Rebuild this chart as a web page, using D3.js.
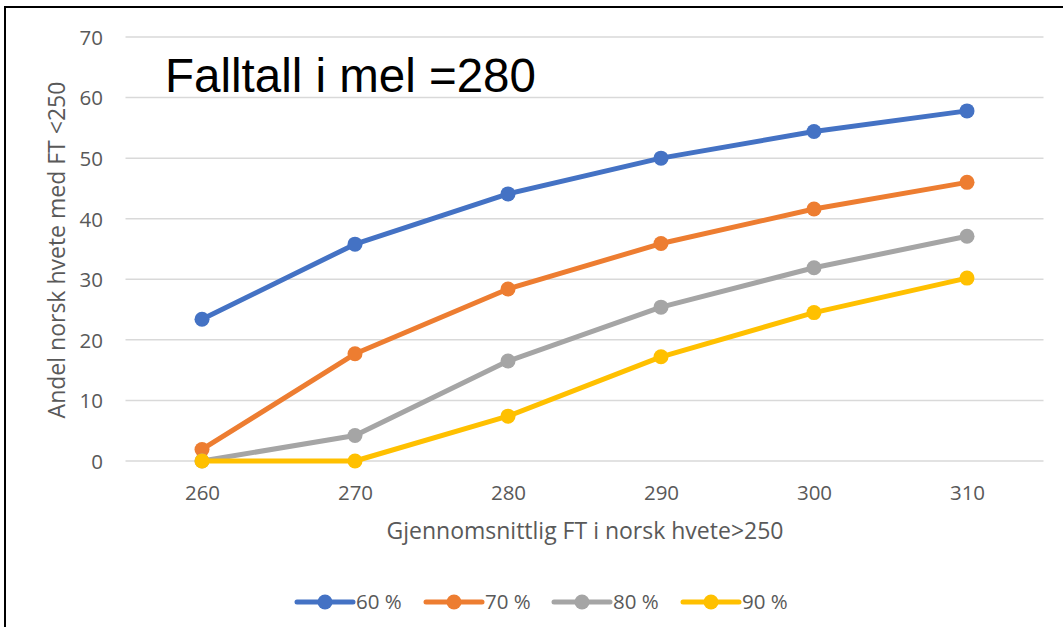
<!DOCTYPE html>
<html>
<head>
<meta charset="utf-8">
<script src="https://cdn.jsdelivr.net/npm/d3@7"></script>
<style>
  html, body { margin: 0; padding: 0; background: #fff; }
  svg { display: block; }
</style>
</head>
<body>
<svg id="chart" width="1063" height="627"></svg>
<script>
// Category axis values (average falling number in Norwegian wheat)
const categories = [260, 270, 280, 290, 300, 310];
// Share of Norwegian wheat with FT < 250, one series per percentage
const seriesNames = ["60 %", "70 %", "80 %", "90 %"];
const values60 = [23.4, 35.8, 44.1, 50.0, 54.4, 57.8];
const values70 = [1.9, 17.7, 28.4, 35.9, 41.6, 46.0];
const values80 = [0.0, 4.2, 16.5, 25.4, 31.9, 37.1];
const values90 = [0.0, 0.0, 7.4, 17.2, 24.5, 30.2];
const yTicks = [0, 10, 20, 30, 40, 50, 60, 70];
const colors = ["#4472C4", "#ED7D31", "#A5A5A5", "#FFC000"];

const series = seriesNames.map((name, i) => ({
  name,
  color: colors[i],
  values: [values60, values70, values80, values90][i]
}));

const svg = d3.select("#chart");
const W = 1063, H = 627;

const plot = { left: 125.5, right: 1043.5, top: 37, bottom: 461 };

const x = d3.scalePoint()
  .domain(categories)
  .range([plot.left, plot.right])
  .padding(0.5);

const y = d3.scaleLinear()
  .domain([0, 70])
  .range([plot.bottom, plot.top]);

const labelFont = "'Open Sans', 'Noto Sans', sans-serif";
const labelColor = "#595959";
const tickSize = 20.5;
const titleSize = 23;

// outer frame
svg.append("path")
  .attr("d", `M5,${H} L5,7 L${W},7`)
  .attr("fill", "none")
  .attr("stroke", "#000")
  .attr("stroke-width", 2);

// horizontal gridlines
svg.append("g")
  .selectAll("line")
  .data(yTicks)
  .join("line")
  .attr("x1", plot.left)
  .attr("x2", plot.right)
  .attr("y1", d => y(d))
  .attr("y2", d => y(d))
  .attr("stroke", "#d9d9d9")
  .attr("stroke-width", 1.5);

// y axis labels
const yAxis = d3.axisLeft(y).tickValues(yTicks).tickSize(0).tickPadding(0);
const gy = svg.append("g")
  .attr("transform", `translate(103,0)`)
  .call(yAxis);
gy.select(".domain").remove();
gy.selectAll("text")
  .attr("font-family", labelFont)
  .attr("font-size", tickSize)
  .attr("fill", labelColor)
  .attr("dy", "0.36em");

// x axis labels
const xAxis = d3.axisBottom(x).tickSize(0).tickPadding(0);
const gx = svg.append("g")
  .attr("transform", `translate(0,${plot.bottom + 39})`)
  .call(xAxis);
gx.select(".domain").remove();
gx.selectAll("text")
  .attr("font-family", labelFont)
  .attr("font-size", tickSize)
  .attr("fill", labelColor)
  .attr("dy", 0);

// axis titles
svg.append("text")
  .attr("transform", `translate(65,250) rotate(-90)`)
  .attr("text-anchor", "middle")
  .attr("font-family", labelFont)
  .attr("font-size", titleSize)
  .attr("fill", labelColor)
  .text("Andel norsk hvete med FT <250");

svg.append("text")
  .attr("x", 585)
  .attr("y", 539)
  .attr("text-anchor", "middle")
  .attr("font-family", labelFont)
  .attr("font-size", titleSize)
  .attr("fill", labelColor)
  .text("Gjennomsnittlig FT i norsk hvete>250");

// chart title inside plot
svg.append("text")
  .attr("x", 165)
  .attr("y", 92)
  .attr("font-family", "'Liberation Sans', Arial, sans-serif")
  .attr("font-size", 47.5)
  .attr("fill", "#000")
  .text("Falltall i mel =280");

// series lines and markers
const line = d3.line()
  .x((d, i) => x(categories[i]))
  .y(d => y(d));

const gs = svg.append("g")
  .selectAll("g")
  .data(series)
  .join("g");

gs.append("path")
  .attr("d", d => line(d.values))
  .attr("fill", "none")
  .attr("stroke", d => d.color)
  .attr("stroke-width", 5)
  .attr("stroke-linejoin", "round")
  .attr("stroke-linecap", "round");

gs.selectAll("circle")
  .data(d => d.values.map((v, i) => ({ v, i, color: d.color })))
  .join("circle")
  .attr("cx", d => x(categories[d.i]))
  .attr("cy", d => y(d.v))
  .attr("r", 7.5)
  .attr("fill", d => d.color);

// legend
const legendX = [297, 426, 554, 683];
const legendY = 602;
const lg = svg.append("g")
  .selectAll("g")
  .data(series)
  .join("g")
  .attr("transform", (d, i) => `translate(${legendX[i]},${legendY})`);

lg.append("line")
  .attr("x1", 0).attr("x2", 56)
  .attr("y1", 0).attr("y2", 0)
  .attr("stroke", d => d.color)
  .attr("stroke-width", 5)
  .attr("stroke-linecap", "round");

lg.append("circle")
  .attr("cx", 28).attr("cy", 0).attr("r", 7.5)
  .attr("fill", d => d.color);

lg.append("text")
  .attr("x", 59)
  .attr("y", 0)
  .attr("dy", "0.36em")
  .attr("font-family", labelFont)
  .attr("font-size", tickSize)
  .attr("fill", labelColor)
  .text(d => d.name);
</script>
</body>
</html>
